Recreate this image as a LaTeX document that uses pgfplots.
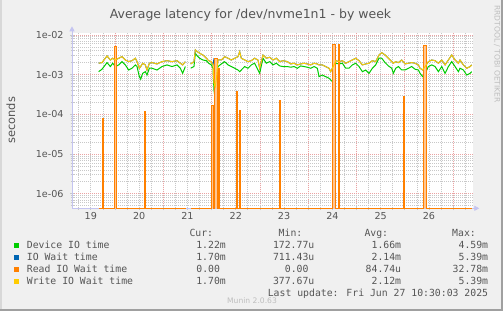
\documentclass[border=0pt]{standalone}
\usepackage{fontspec}
\setmainfont{DejaVu Sans}
\newfontfamily\monofont{DejaVu Sans Mono}
\usepackage{pgfplots}
\pgfplotsset{compat=1.18}
\usepackage{pgfplotstable}
\usetikzlibrary{arrows.meta}

\definecolor{bg}{HTML}{F0F0F0}
\definecolor{txt}{HTML}{555555}
\definecolor{mgrid}{HTML}{EBA3A3}
\definecolor{ngrid}{HTML}{C8C8C8}
\definecolor{axc}{HTML}{C4C4F0}
\definecolor{cdev}{HTML}{00CC00}
\definecolor{cio}{HTML}{0066B3}
\definecolor{crd}{HTML}{FF8000}
\definecolor{crdl}{HTML}{FFC590}
\definecolor{cwr}{HTML}{FFCC00}
\definecolor{wm}{HTML}{BEBEBE}
\definecolor{bordl}{HTML}{D8D8D8}
\definecolor{bordd}{HTML}{A0A0A0}

\pgfplotstableread{
x dev iow wr
19.162 1.19e-3 1.94e-3 1.94e-3
19.231 1.37e-3 2.01e-3 2.01e-3
19.335 2.01e-3 2.96e-3 2.96e-3
19.404 1.60e-3 2.34e-3 2.34e-3
19.452 1.94e-3 2.59e-3 2.59e-3
19.507 1.60e-3 2.34e-3 2.34e-3
19.576 1.76e-3 2.59e-3 2.59e-3
19.645 2.13e-3 2.84e-3 2.84e-3
19.714 1.76e-3 2.34e-3 2.34e-3
19.783 1.31e-3 2.13e-3 2.13e-3
19.852 1.45e-3 2.25e-3 2.25e-3
19.921 1.76e-3 2.59e-3 2.59e-3
19.956 1.60e-3 2.13e-3 2.13e-3
20.004 8.9e-4 1.45e-3 1.45e-3
20.032 7.7e-4 1.60e-3 1.60e-3
20.073 1.08e-3 1.94e-3 1.94e-3
20.128 1.19e-3 1.76e-3 1.76e-3
20.163 9.8e-4 1.31e-3 1.31e-3
20.211 1.45e-3 1.94e-3 1.94e-3
20.266 1.45e-3 2.01e-3 2.01e-3
20.370 1.31e-3 1.86e-3 1.86e-3
20.473 1.60e-3 2.13e-3 2.13e-3
20.577 1.76e-3 2.25e-3 2.25e-3
20.680 1.60e-3 2.13e-3 2.13e-3
20.784 1.76e-3 2.25e-3 2.25e-3
20.853 1.45e-3 1.94e-3 1.94e-3
20.901 1.08e-3 1.76e-3 1.76e-3
20.956 1.60e-3 2.13e-3 2.13e-3
20.990 nan nan nan
21.066 1.45e-3 1.86e-3 1.86e-3
21.135 1.60e-3 2.13e-3 2.13e-3
21.163 3.46e-3 4.19e-3 4.19e-3
21.204 2.96e-3 3.79e-3 3.79e-3
21.253 2.59e-3 3.46e-3 3.46e-3
21.322 2.34e-3 3.13e-3 3.13e-3
21.391 2.25e-3 2.59e-3 2.59e-3
21.439 1.94e-3 2.25e-3 2.25e-3
21.494 1.76e-3 2.13e-3 2.13e-3
21.529 1.45e-3 1.76e-3 1.76e-3
21.549 4.1e-4 2.50e-3 6.1e-4
21.577 2.31e-4 2.40e-3 4.99e-4
21.604 4.1e-4 1.20e-3 8.9e-4
21.632 1.60e-3 2.34e-3 2.34e-3
21.701 1.86e-3 2.34e-3 2.34e-3
21.770 2.13e-3 2.84e-3 2.84e-3
21.839 1.76e-3 2.59e-3 2.59e-3
21.908 1.60e-3 2.34e-3 2.34e-3
21.977 1.45e-3 2.59e-3 2.59e-3
22.046 1.31e-3 2.84e-3 2.84e-3
22.081 1.19e-3 3.79e-3 3.79e-3
22.115 1.31e-3 2.59e-3 2.59e-3
22.184 1.60e-3 2.34e-3 2.34e-3
22.253 1.45e-3 2.13e-3 2.13e-3
22.322 1.76e-3 2.25e-3 2.25e-3
22.391 1.94e-3 2.59e-3 2.59e-3
22.460 1.31e-3 2.34e-3 2.34e-3
22.495 1.08e-3 1.45e-3 1.45e-3
22.564 2.59e-3 3.13e-3 3.13e-3
22.633 1.94e-3 2.59e-3 2.59e-3
22.702 2.13e-3 2.74e-3 2.74e-3
22.771 1.76e-3 2.34e-3 2.34e-3
22.840 1.94e-3 2.59e-3 2.59e-3
22.909 1.66e-3 2.13e-3 2.13e-3
22.978 1.60e-3 2.25e-3 2.25e-3
23.068 1.60e-3 2.13e-3 2.13e-3
23.137 1.54e-3 1.86e-3 1.86e-3
23.206 1.60e-3 1.94e-3 1.94e-3
23.275 1.45e-3 1.76e-3 1.76e-3
23.344 1.66e-3 1.86e-3 1.86e-3
23.413 1.60e-3 1.94e-3 1.94e-3
23.482 1.54e-3 1.86e-3 1.86e-3
23.551 1.45e-3 1.76e-3 1.76e-3
23.620 1.60e-3 1.94e-3 1.94e-3
23.689 1.45e-3 1.86e-3 1.86e-3
23.724 8.9e-4 1.76e-3 1.76e-3
23.793 9.8e-4 1.76e-3 1.76e-3
23.862 8.9e-4 1.60e-3 1.60e-3
23.931 8.1e-4 1.45e-3 1.45e-3
23.965 7.35e-4 1.19e-3 1.19e-3
24.000 6.7e-4 1.45e-3 1.45e-3
24.034 1.19e-3 1.76e-3 1.76e-3
24.069 1.94e-3 2.25e-3 2.25e-3
24.138 1.86e-3 2.13e-3 2.13e-3
24.207 1.94e-3 2.25e-3 2.25e-3
24.276 1.45e-3 1.94e-3 1.94e-3
24.345 1.45e-3 2.13e-3 2.13e-3
24.414 1.76e-3 2.34e-3 2.34e-3
24.483 1.94e-3 2.59e-3 2.59e-3
24.552 1.60e-3 2.25e-3 2.25e-3
24.621 1.19e-3 1.76e-3 1.76e-3
24.690 1.31e-3 1.86e-3 1.86e-3
24.759 1.08e-3 1.94e-3 1.94e-3
24.828 1.45e-3 2.25e-3 2.25e-3
24.897 1.76e-3 2.13e-3 2.13e-3
24.966 2.59e-3 3.13e-3 3.13e-3
25.022 2.59e-3 3.58e-3 3.58e-3
25.091 2.01e-3 3.13e-3 3.13e-3
25.160 1.66e-3 2.59e-3 2.59e-3
25.229 1.45e-3 2.13e-3 2.13e-3
25.263 1.08e-3 1.94e-3 1.94e-3
25.311 1.45e-3 2.13e-3 2.13e-3
25.367 1.60e-3 2.01e-3 2.01e-3
25.436 1.31e-3 2.34e-3 2.34e-3
25.505 1.31e-3 1.86e-3 1.86e-3
25.574 1.45e-3 1.94e-3 1.94e-3
25.643 1.60e-3 2.01e-3 2.01e-3
25.712 1.37e-3 1.94e-3 1.94e-3
25.781 1.31e-3 1.76e-3 1.76e-3
25.815 1.08e-3 1.45e-3 1.45e-3
25.870 8.9e-4 1.31e-3 1.31e-3
25.919 1.08e-3 1.60e-3 1.60e-3
25.988 1.60e-3 2.13e-3 2.13e-3
26.057 1.76e-3 2.34e-3 2.34e-3
26.126 1.60e-3 2.25e-3 2.25e-3
26.195 1.19e-3 1.94e-3 1.94e-3
26.264 1.60e-3 2.34e-3 2.34e-3
26.333 1.08e-3 1.76e-3 1.76e-3
26.402 1.60e-3 2.34e-3 2.34e-3
26.471 2.13e-3 3.13e-3 3.13e-3
26.540 1.60e-3 2.34e-3 2.34e-3
26.609 1.19e-3 1.94e-3 1.94e-3
26.643 1.45e-3 2.34e-3 2.34e-3
26.712 1.31e-3 1.76e-3 1.76e-3
26.781 9.8e-4 1.45e-3 1.45e-3
26.850 1.08e-3 1.60e-3 1.60e-3
26.885 1.19e-3 1.76e-3 1.76e-3
}\tblA

\pgfplotstableread{
x rd
19.160 4.31e-7
19.235 4.31e-7
19.235 7.9e-5
19.260 7.9e-5
19.260 4.31e-7
19.500 4.31e-7
19.500 5.0e-3
19.525 5.0e-3
19.525 4.31e-7
20.115 4.31e-7
20.115 1.2e-4
20.140 1.2e-4
20.140 4.31e-7
20.960 4.31e-7
20.990 nan
21.066 4.31e-7
21.505 4.31e-7
21.505 1.7e-4
21.530 1.7e-4
21.530 4.31e-7
21.564 4.31e-7
21.564 2.5e-3
21.620 2.5e-3
21.620 4.31e-7
21.650 4.31e-7
21.650 1.45e-3
21.672 1.45e-3
21.672 4.31e-7
22.010 4.31e-7
22.010 3.7e-4
22.035 3.7e-4
22.035 4.31e-7
22.078 4.31e-7
22.078 1.24e-4
22.100 1.24e-4
22.100 4.31e-7
22.908 4.31e-7
22.908 2.18e-4
22.930 2.18e-4
22.930 4.31e-7
24.002 4.31e-7
24.002 5.6e-3
24.065 5.6e-3
24.065 4.31e-7
24.123 4.31e-7
24.123 5.6e-3
24.145 5.6e-3
24.145 4.31e-7
25.472 4.31e-7
25.472 2.9e-4
25.494 2.9e-4
25.494 4.31e-7
25.894 4.31e-7
25.894 5.3e-3
25.950 5.3e-3
25.950 4.31e-7
26.885 4.31e-7
}\tblR

\begin{document}
\begin{tikzpicture}[x=1bp,y=1bp]
\useasboundingbox (0,0) rectangle (503,311);
\fill[bg] (0,0) rectangle (503,311);
\fill[bordl] (0,0) rectangle (1.5,311);
\fill[bordd] (0,0) rectangle (503,2);
\fill[bordd] (501,0) rectangle (503,311);

\begin{axis}[
  at={(72bp,102.7bp)}, anchor=south west,
  scale only axis, width=401.3bp, height=175bp,
  xmin=18.61, xmax=26.918,
  ymode=log, ymin=4.31e-7, ymax=1.1e-2,
  axis x line=bottom, axis y line=left,
  axis line style={draw=axc, line width=0.8bp},
  x axis line style={-{Triangle[width=5bp,length=5bp]}, shorten >=-6bp, fill=axc},
  y axis line style={-{Triangle[width=5bp,length=5bp]}, shorten >=-7bp, fill=axc},
  xtick={19.5,20.5,...,26.5}, xticklabels={},
  minor xtick={18.75,19,...,26.75},
  extra x ticks={19,20,21,22,23,24,25,26},
  extra x tick labels={19,20,21,22,23,24,25,26},
  extra x tick style={grid=none, major tick length=0pt},
  ytick={1e-6,1e-5,1e-4,1e-3,1e-2},
  yticklabels={1e-06,1e-05,1e-04,1e-03,1e-02},
  minor ytick={5e-7,6e-7,7e-7,8e-7,9e-7,2e-6,3e-6,4e-6,5e-6,6e-6,7e-6,8e-6,9e-6,2e-5,3e-5,4e-5,5e-5,6e-5,7e-5,8e-5,9e-5,2e-4,3e-4,4e-4,5e-4,6e-4,7e-4,8e-4,9e-4,2e-3,3e-3,4e-3,5e-3,6e-3,7e-3,8e-3,9e-3},
  grid=both,
  major grid style={draw=mgrid, dash pattern=on 1bp off 1bp, line width=0.7bp},
  minor grid style={draw=ngrid, dash pattern=on 1bp off 1bp, line width=0.7bp},
  tick style={draw=ngrid, line width=0.7bp},
  major tick length=4bp, minor tick length=3bp, tick align=center,
  ticklabel style={font=\fontsize{9.6bp}{11bp}\selectfont, text=txt, inner sep=0pt},
  xticklabel style={anchor=north, yshift=-3.4bp},
  yticklabel style={anchor=east, xshift=-6.3bp},
  axis background/.style={fill=white},
  unbounded coords=jump,
  clip=false,
]
\addplot[cdev, line width=1bp] table[x=x,y=dev]{\tblA};
\addplot[cio, line width=1bp] table[x=x,y=iow]{\tblA};
\addplot[draw=none, fill=crdl] table[x=x,y=rd]{\tblR};
\addplot[crd, line width=1bp] table[x=x,y=rd]{\tblR};
\addplot[cwr, line width=1bp] table[x=x,y=wr]{\tblA};
\end{axis}

% title and labels
\node[anchor=base, inner sep=0, text=txt, font=\fontsize{12.5bp}{14bp}\selectfont] at (250.5,292.7) {Average latency for /dev/nvme1n1 - by week};
\node[anchor=base, rotate=90, inner sep=0, text=txt, font=\fontsize{11.4bp}{13bp}\selectfont] at (15,190.7) {seconds};

% watermarks
\node[rotate=-90, inner sep=0, text=wm, font=\fontsize{7.6bp}{9bp}\selectfont] at (497,257) {RRDTOOL / TOBI OETIKER};
\node[anchor=base, inner sep=0, text=wm, font=\fontsize{7.6bp}{9bp}\selectfont] at (252,7.7) {Munin 2.0.63};

% legend
\begin{scope}[every node/.style={inner sep=0, text=txt, font=\monofont\fontsize{9.8bp}{12bp}\selectfont}]
\node[anchor=base east] at (213.3,74.7) {Cur:};
\node[anchor=base east] at (302.5,74.7) {Min:};
\node[anchor=base east] at (388.3,74.7) {Avg:};
\node[anchor=base east] at (476,74.7) {Max:};

\node[anchor=south west] at (14,62.7) {\textcolor{cdev}{\rule{5.3bp}{5.3bp}}};
\node[anchor=south west] at (14,50.7) {\textcolor{cio}{\rule{5.3bp}{5.3bp}}};
\node[anchor=south west] at (14,38.7) {\textcolor{crd}{\rule{5.3bp}{5.3bp}}};
\node[anchor=south west] at (14,26.7) {\textcolor{cwr}{\rule{5.3bp}{5.3bp}}};

\node[anchor=base west] at (26.7,62.7) {Device IO time};
\node[anchor=base west] at (26.7,50.7) {IO Wait time};
\node[anchor=base west] at (26.7,38.7) {Read IO Wait time};
\node[anchor=base west] at (26.7,26.6) {Write IO Wait time};

\node[anchor=base east] at (226,62.7) {1.22m};
\node[anchor=base east] at (314.5,62.7) {172.77u};
\node[anchor=base east] at (401.3,62.7) {1.66m};
\node[anchor=base east] at (488.3,62.7) {4.59m};

\node[anchor=base east] at (226,50.7) {1.70m};
\node[anchor=base east] at (314.5,50.7) {711.43u};
\node[anchor=base east] at (401.3,50.7) {2.14m};
\node[anchor=base east] at (488.3,50.7) {5.39m};

\node[anchor=base east] at (220.2,38.7) {0.00};
\node[anchor=base east] at (308.7,38.7) {0.00};
\node[anchor=base east] at (401.3,38.7) {84.74u};
\node[anchor=base east] at (488.3,38.7) {32.78m};

\node[anchor=base east] at (226,26.6) {1.70m};
\node[anchor=base east] at (314.5,26.6) {377.67u};
\node[anchor=base east] at (401.3,26.6) {2.12m};
\node[anchor=base east] at (488.3,26.6) {5.39m};

\node[anchor=base east] at (488.3,14.6) {Last update: Fri Jun 27 10:30:03 2025};
\end{scope}
\end{tikzpicture}
\end{document}
